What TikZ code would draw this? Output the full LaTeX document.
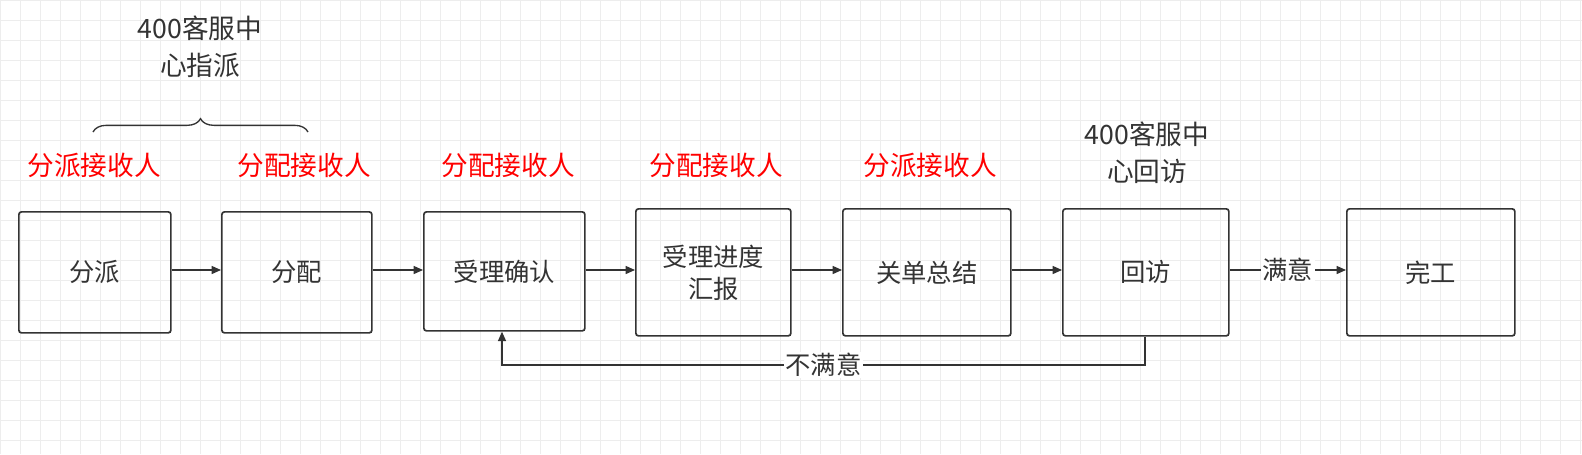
\documentclass[tikz,border=0pt]{standalone}
\usepackage{fontspec}
\setmainfont{Noto Sans CJK SC}
\usetikzlibrary{arrows.meta,decorations.pathreplacing}
\definecolor{tx}{HTML}{333333}
\tikzset{
 box/.style={draw=tx,line width=1.3pt,rounded corners=2pt,align=center,font=\fontsize{19}{24}\selectfont,text=tx,anchor=north west},
 red/.style={text=red,font=\fontsize{20}{24}\selectfont},
 note/.style={text=tx,font=\fontsize{20}{28}\selectfont,align=center},
 arr/.style={draw=tx,line width=1pt,-{Triangle[length=7pt,width=6pt]}}
}
\begin{document}
\begin{tikzpicture}[x=0.75pt,y=-0.75pt]
\useasboundingbox (0,0) rectangle (1582,454);
\begin{scope}
\clip (0,0) rectangle (1582,454);
\draw[black!7,line width=0.4pt] (0,0) grid[step=20*0.75pt] (1582,454);
\end{scope}
\node[box,minimum width=152*0.75pt,minimum height=121*0.75pt] (a) at (18,211) {分派};
\node[box,minimum width=150*0.75pt,minimum height=121*0.75pt] (b) at (221,211) {分配};
\node[box,minimum width=161*0.75pt,minimum height=119*0.75pt] (c) at (423,211) {受理确认};
\node[box,minimum width=155*0.75pt,minimum height=127*0.75pt] (d) at (635,208) {受理进度\\汇报};
\node[box,minimum width=168*0.75pt,minimum height=127*0.75pt] (e) at (842,208) {关单总结};
\node[box,minimum width=166*0.75pt,minimum height=127*0.75pt] (f) at (1062,208) {回访};
\node[box,minimum width=168*0.75pt,minimum height=127*0.75pt] (g) at (1346,208) {完工};
\draw[arr] (a.east|-0,270) -- (b.west|-0,270);
\draw[arr] (b.east|-0,270) -- (c.west|-0,270);
\draw[arr] (c.east|-0,270) -- (d.west|-0,270);
\draw[arr] (d.east|-0,270) -- (e.west|-0,270);
\draw[arr] (e.east|-0,270) -- (f.west|-0,270);
\draw[arr] (f.east|-0,270) -- node[fill=white,inner sep=1pt,text=tx,font=\fontsize{19}{22}\selectfont]{满意} (g.west|-0,270);
\coordinate (p1) at (1145,365);
\coordinate (p2) at (502,365);
\draw[arr] (f.south-|p1) -- (p1) -- node[pos=0.5,fill=white,inner sep=1pt,text=tx,font=\fontsize{19}{22}\selectfont]{不满意} (p2) -- (c.south-|p2);
\node[red] (r1) at (94,165) {分派接收人};
\node[red] (r2) at (304,165) {分配接收人};
\node[red] (r3) at (508,165) {分配接收人};
\node[red] (r4) at (716,165) {分配接收人};
\node[red] (r5) at (930,165) {分派接收人};
\node[note] (n1) at (200,47) {400客服中\\心指派};
\node[note] (n2) at (1147,153) {400客服中\\心回访};
\coordinate (b1) at (93,132);
\coordinate (b2) at (308,132);
\draw[tx,line width=1pt,decorate,decoration={brace,amplitude=10pt}] (b1) -- (b2);
\end{tikzpicture}
\end{document}
